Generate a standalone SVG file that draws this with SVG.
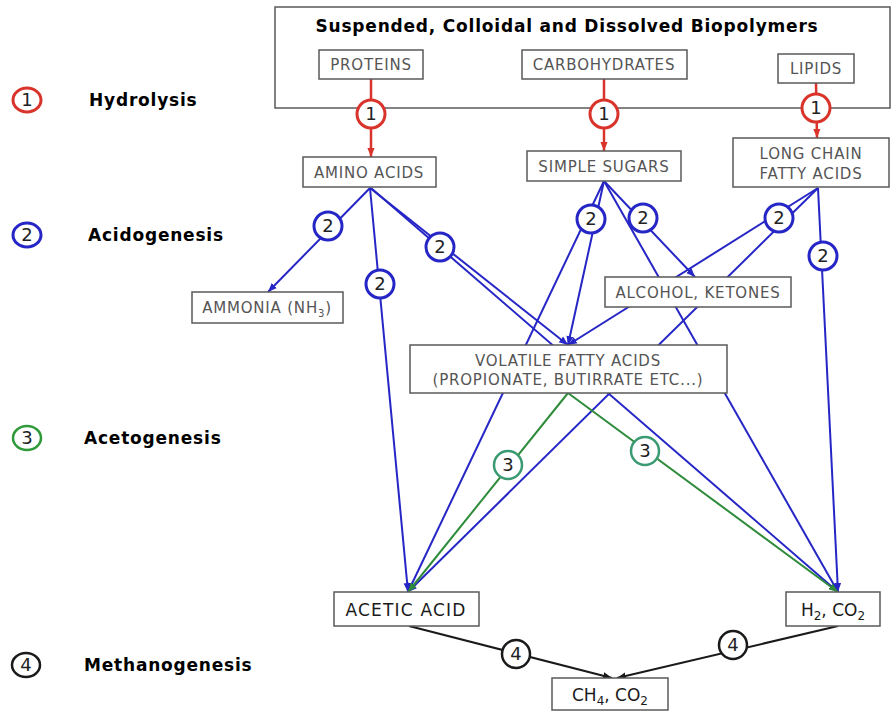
<svg xmlns="http://www.w3.org/2000/svg" width="891" height="711" viewBox="0 0 891 711">
<style>
.box{fill:#fff;stroke:#5a5a5a;stroke-width:1.5}
.lbl{font-family:"DejaVu Sans",sans-serif;font-size:15px;fill:#555;letter-spacing:0.8px;text-anchor:middle}
.big{font-family:"DejaVu Sans",sans-serif;font-size:17px;fill:#1a1a1a;text-anchor:middle}
.stage{font-family:"DejaVu Sans",sans-serif;font-weight:bold;font-size:17px;fill:#000;letter-spacing:0.8px}
.num{font-family:"DejaVu Sans",sans-serif;font-size:18px;fill:#222;text-anchor:middle}
.r{stroke:#d9342b;stroke-width:2.5;fill:none}
.b{stroke:#2626c6;stroke-width:2;fill:none}
.g{stroke:#2e8b3a;stroke-width:2;fill:none}
.k{stroke:#1a1a1a;stroke-width:2;fill:none}
.cr{fill:#fff;stroke:#d9342b;stroke-width:3}
.cb{fill:#fff;stroke:#2626c6;stroke-width:3}
.cg{fill:#fff;stroke:#3a9a72;stroke-width:2.5}
.ck{fill:#fff;stroke:#1a1a1a;stroke-width:2.5}
</style>
<defs>
<marker id="ar" viewBox="0 0 10 10" refX="10" refY="5" markerWidth="9" markerHeight="9" markerUnits="userSpaceOnUse" orient="auto"><path d="M0,1 L10,5 L0,9 z" fill="#d9342b"/></marker>
<marker id="ab" viewBox="0 0 10 10" refX="10" refY="5" markerWidth="9" markerHeight="9" markerUnits="userSpaceOnUse" orient="auto"><path d="M0,1 L10,5 L0,9 z" fill="#2626c6"/></marker>
<marker id="ag" viewBox="0 0 10 10" refX="10" refY="5" markerWidth="9" markerHeight="9" markerUnits="userSpaceOnUse" orient="auto"><path d="M0,1 L10,5 L0,9 z" fill="#2e8b3a"/></marker>
<marker id="ak" viewBox="0 0 10 10" refX="10" refY="5" markerWidth="9" markerHeight="9" markerUnits="userSpaceOnUse" orient="auto"><path d="M0,1 L10,5 L0,9 z" fill="#1a1a1a"/></marker>
</defs>
<rect width="891" height="711" fill="#fff"/>

<!-- legend -->
<g id="legend">
<ellipse class="cr" cx="27" cy="100" rx="14" ry="12"/><text class="num" x="27" y="106" font-size="16">1</text>
<text class="stage" x="89" y="106">Hydrolysis</text>
<ellipse class="cb" cx="27" cy="235" rx="14" ry="12"/><text class="num" x="27" y="241" font-size="16">2</text>
<text class="stage" x="88" y="241">Acidogenesis</text>
<ellipse class="cg" cx="27" cy="438" rx="14" ry="12" style="stroke:#2e9a3a"/><text class="num" x="27" y="444" font-size="16">3</text>
<text class="stage" x="84" y="444">Acetogenesis</text>
<ellipse class="ck" cx="26" cy="665" rx="14" ry="12"/><text class="num" x="26" y="671" font-size="16">4</text>
<text class="stage" x="84" y="671" letter-spacing="0.6">Methanogenesis</text>
</g>

<!-- top container -->
<g id="biopolymers">
<rect class="box" x="275" y="7" width="615" height="101"/>
<text x="567" y="32" style="font-family:'DejaVu Sans',sans-serif;font-weight:bold;font-size:17px;fill:#000;text-anchor:middle;letter-spacing:0.8px">Suspended, Colloidal and Dissolved Biopolymers</text>
</g>

<!-- connectors -->
<g id="connectors">
<line class="r" x1="371" y1="79" x2="371" y2="157" marker-end="url(#ar)"/>
<line class="r" x1="604" y1="79" x2="604" y2="151" marker-end="url(#ar)"/>
<line class="r" x1="816" y1="83" x2="817" y2="138" marker-end="url(#ar)"/>

<line class="b" x1="370" y1="188" x2="268" y2="292" marker-end="url(#ab)"/>
<line class="b" x1="370" y1="188" x2="408" y2="592" marker-end="url(#ab)"/>
<line class="b" x1="370" y1="188" x2="568" y2="345" marker-end="url(#ab)"/>
<line class="b" x1="371" y1="188" x2="838" y2="592" marker-end="url(#ab)"/>

<line class="b" x1="604" y1="181" x2="568" y2="345" marker-end="url(#ab)"/>
<line class="b" x1="604" y1="181" x2="408" y2="592" marker-end="url(#ab)"/>
<line class="b" x1="604" y1="181" x2="695" y2="277" marker-end="url(#ab)"/>
<line class="b" x1="604" y1="181" x2="838" y2="592" marker-end="url(#ab)"/>

<line class="b" x1="818" y1="188" x2="568" y2="345" marker-end="url(#ab)"/>
<line class="b" x1="818" y1="188" x2="408" y2="592" marker-end="url(#ab)"/>
<line class="b" x1="818" y1="188" x2="838" y2="592" marker-end="url(#ab)"/>

<line class="g" x1="568" y1="393" x2="408" y2="592" marker-end="url(#ag)"/>
<line class="g" x1="568" y1="393" x2="838" y2="592" marker-end="url(#ag)"/>

<line class="k" x1="409" y1="626" x2="612" y2="678" marker-end="url(#ak)"/>
<line class="k" x1="838" y1="626" x2="617" y2="678" marker-end="url(#ak)"/>
</g>

<!-- nodes -->
<g id="proteins"><rect class="box" x="319" y="50" width="104" height="29"/><text class="lbl" x="371" y="70">PROTEINS</text></g>
<g id="carbohydrates"><rect class="box" x="522" y="50" width="165" height="29"/><text class="lbl" x="604" y="70">CARBOHYDRATES</text></g>
<g id="lipids"><rect class="box" x="778" y="54" width="76" height="29"/><text class="lbl" x="816" y="74">LIPIDS</text></g>

<g id="amino-acids"><rect class="box" x="303" y="157" width="133" height="30"/><text class="lbl" x="369" y="178">AMINO ACIDS</text></g>
<g id="simple-sugars"><rect class="box" x="527" y="151" width="154" height="30"/><text class="lbl" x="604" y="172">SIMPLE SUGARS</text></g>
<g id="lcfa"><rect class="box" x="733" y="138" width="156" height="49"/><text class="lbl" x="811" y="159">LONG CHAIN</text><text class="lbl" x="811" y="179">FATTY ACIDS</text></g>

<g id="ammonia"><rect class="box" x="192" y="292" width="151" height="31"/><text class="lbl" x="267" y="313">AMMONIA (NH<tspan font-size="10" dy="4">3</tspan><tspan dy="-4">)</tspan></text></g>
<g id="alcohol-ketones"><rect class="box" x="605" y="277" width="186" height="30"/><text class="lbl" x="698" y="298">ALCOHOL, KETONES</text></g>
<g id="vfa"><rect class="box" x="410" y="345" width="317" height="48"/><text class="lbl" x="568" y="366">VOLATILE FATTY ACIDS</text><text class="lbl" x="568" y="385">(PROPIONATE, BUTIRRATE ETC...)</text></g>

<g id="acetic-acid"><rect class="box" x="334" y="592" width="145" height="34"/><text class="big" x="406" y="616" letter-spacing="1.2">ACETIC ACID</text></g>
<g id="h2-co2"><rect class="box" x="786" y="592" width="94" height="34"/><text class="big" x="833" y="616">H<tspan font-size="12" dy="4">2</tspan><tspan dy="-4">, CO</tspan><tspan font-size="12" dy="4">2</tspan></text></g>
<g id="ch4-co2"><rect class="box" x="552" y="678" width="116" height="32"/><text class="big" x="610" y="701">CH<tspan font-size="12" dy="4">4</tspan><tspan dy="-4">, CO</tspan><tspan font-size="12" dy="4">2</tspan></text></g>

<!-- step markers -->
<g id="steps">
<circle class="cr" cx="371" cy="114" r="14"/><text class="num" x="371" y="120">1</text>
<circle class="cr" cx="604" cy="114" r="14"/><text class="num" x="604" y="120">1</text>
<circle class="cr" cx="816" cy="108" r="14"/><text class="num" x="816" y="114">1</text>

<circle class="cb" cx="328" cy="226" r="14"/><text class="num" x="328" y="232">2</text>
<circle class="cb" cx="380" cy="284" r="14"/><text class="num" x="380" y="290">2</text>
<circle class="cb" cx="440" cy="247" r="14"/><text class="num" x="440" y="253">2</text>
<circle class="cb" cx="591" cy="219" r="14"/><text class="num" x="591" y="225">2</text>
<circle class="cb" cx="643" cy="218" r="14"/><text class="num" x="643" y="224">2</text>
<circle class="cb" cx="779" cy="218" r="14"/><text class="num" x="779" y="224">2</text>
<circle class="cb" cx="823" cy="256" r="14"/><text class="num" x="823" y="262">2</text>

<circle class="cg" cx="508" cy="465" r="14"/><text class="num" x="508" y="471">3</text>
<circle class="cg" cx="645" cy="451" r="14"/><text class="num" x="645" y="457">3</text>

<circle class="ck" cx="516" cy="654" r="14"/><text class="num" x="516" y="660">4</text>
<circle class="ck" cx="733" cy="645" r="14"/><text class="num" x="733" y="651">4</text>
</g>
</svg>
